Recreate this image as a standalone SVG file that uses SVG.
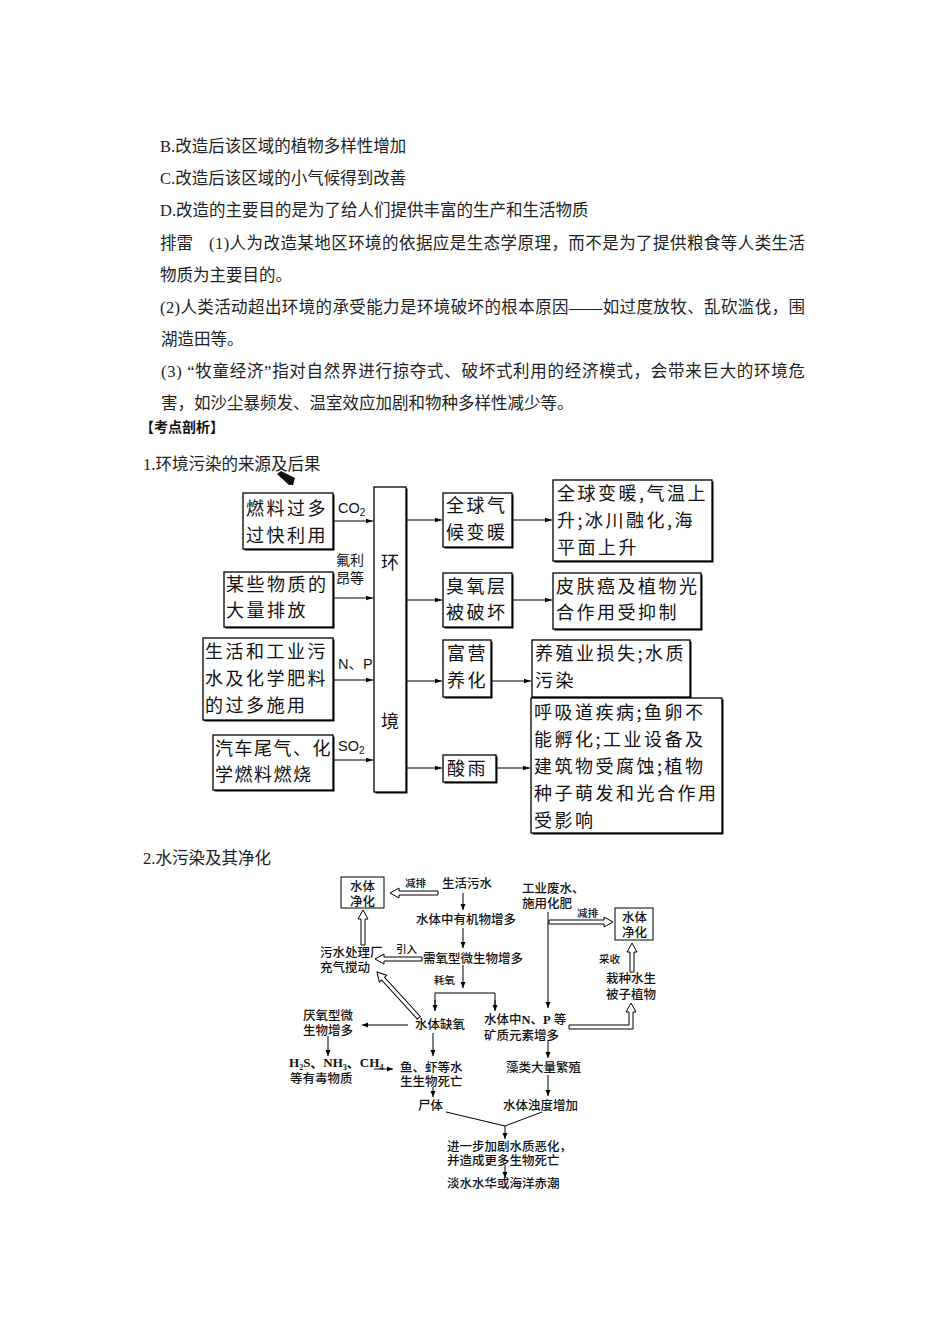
<svg xmlns="http://www.w3.org/2000/svg" width="950" height="1344" viewBox="0 0 950 1344">
<style>
.t{font-family:"Liberation Serif","Noto Sans CJK SC",serif;font-size:16.5px;fill:#222}
.h{font-family:"Noto Sans CJK SC",sans-serif;font-size:14px;font-weight:bold;fill:#111}
.d1{font-family:"Noto Sans CJK SC",sans-serif;font-size:18px;letter-spacing:2.5px;fill:#111}
.lb{font-family:"Liberation Sans","Noto Sans CJK SC",sans-serif;font-size:14.5px;fill:#111}
.lc{font-family:"Noto Sans CJK SC",sans-serif;font-size:14px;fill:#111}
.bx{fill:#fff;stroke:#000;stroke-width:1.3}
.sh{fill:#000}
.ln{stroke:#000;stroke-width:1;fill:none}
.d2{font-family:"Liberation Serif","Noto Sans CJK SC",serif;font-size:12.5px;fill:#111;font-weight:500}
.sm{font-family:"Liberation Serif","Noto Sans CJK SC",serif;font-size:10.5px;fill:#111;font-weight:500}
.ha{fill:#fff;stroke:#000;stroke-width:1}
</style>
<defs>
<marker id="a1" markerWidth="8" markerHeight="6" refX="7" refY="3" orient="auto" markerUnits="userSpaceOnUse"><path d="M0,0.8 L7,3 L0,5.2 Z" fill="#000"/></marker>
<marker id="a2" markerWidth="7" markerHeight="6" refX="6" refY="3" orient="auto" markerUnits="userSpaceOnUse"><path d="M0,0.5 L6,3 L0,5.5 Z" fill="#000"/></marker>
</defs>
<rect width="950" height="1344" fill="#fff"/>

<g id="text-block">
<text class="t" x="160" y="152">B.改造后该区域的植物多样性增加</text>
<text class="t" x="160" y="184">C.改造后该区域的小气候得到改善</text>
<text class="t" x="160" y="216">D.改造的主要目的是为了给人们提供丰富的生产和生活物质</text>
<text class="t" x="160" y="249">排雷</text>
<text class="t" x="209" y="249" textLength="596" lengthAdjust="spacing">(1)人为改造某地区环境的依据应是生态学原理，而不是为了提供粮食等人类生活</text>
<text class="t" x="160" y="281">物质为主要目的。</text>
<text class="t" x="160" y="313" textLength="645" lengthAdjust="spacing">(2)人类活动超出环境的承受能力是环境破坏的根本原因——如过度放牧、乱砍滥伐，围</text>
<text class="t" x="161" y="345">湖造田等。</text>
<text class="t" x="161" y="377" textLength="644" lengthAdjust="spacing">(3) “牧童经济”指对自然界进行掠夺式、破坏式利用的经济模式，会带来巨大的环境危</text>
<text class="t" x="161" y="409">害，如沙尘暴频发、温室效应加剧和物种多样性减少等。</text>
<text class="h" x="140" y="432">【考点剖析】</text>
<text class="t" x="143" y="470">1.环境污染的来源及后果</text>
<polygon points="277,474 281,471 295,478 293,485 289,485" fill="#111"/>
<text class="t" x="143" y="864">2.水污染及其净化</text>
</g>

<g id="d1-connectors">
<line class="ln" x1="333" y1="521" x2="373" y2="521" marker-end="url(#a1)"/>
<line class="ln" x1="333" y1="598" x2="373" y2="598" marker-end="url(#a1)"/>
<line class="ln" x1="333" y1="680" x2="373" y2="680" marker-end="url(#a1)"/>
<line class="ln" x1="333" y1="760" x2="373" y2="760" marker-end="url(#a1)"/>
<line class="ln" x1="406" y1="520" x2="442" y2="520" marker-end="url(#a1)"/>
<line class="ln" x1="406" y1="600" x2="442" y2="600" marker-end="url(#a1)"/>
<line class="ln" x1="406" y1="681" x2="442" y2="681" marker-end="url(#a1)"/>
<line class="ln" x1="406" y1="768" x2="442" y2="768" marker-end="url(#a1)"/>
<line class="ln" x1="513" y1="520" x2="552" y2="520" marker-end="url(#a1)"/>
<line class="ln" x1="513" y1="600" x2="552" y2="600" marker-end="url(#a1)"/>
<line class="ln" x1="492" y1="681" x2="531" y2="681" marker-end="url(#a1)"/>
<line class="ln" x1="497" y1="768" x2="530" y2="768" marker-end="url(#a1)"/>
<text class="lb" x="338" y="513">CO<tspan font-size="10" dy="3">2</tspan></text>
<text class="lc" x="336" y="565">氟利</text>
<text class="lc" x="336" y="583">昂等</text>
<text class="lb" x="338" y="669">N、P</text>
<text class="lb" x="338" y="751">SO<tspan font-size="10" dy="3">2</tspan></text>
</g>

<g id="b1"><rect class="sh" x="244.5" y="494.5" width="90" height="56"/><rect class="bx" x="243" y="493" width="90" height="56"/>
<text class="d1" x="246" y="515">燃料过多</text><text class="d1" x="246" y="542">过快利用</text></g>
<g id="b2"><rect class="sh" x="225.5" y="573.5" width="109" height="55"/><rect class="bx" x="224" y="572" width="109" height="55"/>
<text class="d1" x="226" y="591">某些物质的</text><text class="d1" x="226" y="617">大量排放</text></g>
<g id="b3"><rect class="sh" x="204.5" y="639.5" width="130" height="82"/><rect class="bx" x="203" y="638" width="130" height="82"/>
<text class="d1" x="205" y="658">生活和工业污</text><text class="d1" x="205" y="685">水及化学肥料</text><text class="d1" x="205" y="712">的过多施用</text></g>
<g id="b4"><rect class="sh" x="214.5" y="736.5" width="120" height="55"/><rect class="bx" x="213" y="735" width="120" height="55"/>
<text class="d1" x="215" y="755" style="letter-spacing:1.5px">汽车尾气、化</text><text class="d1" x="215" y="781" style="letter-spacing:1.5px">学燃料燃烧</text></g>
<g id="env"><rect class="sh" x="375.5" y="488.5" width="32" height="305"/><rect class="bx" x="374" y="487" width="32" height="305"/>
<text class="d1" x="381" y="569">环</text><text class="d1" x="381" y="728">境</text></g>
<g id="m1"><rect class="sh" x="444.5" y="494.5" width="69" height="54"/><rect class="bx" x="443" y="493" width="69" height="54"/>
<text class="d1" x="446" y="512">全球气</text><text class="d1" x="446" y="539">候变暖</text></g>
<g id="m2"><rect class="sh" x="444.5" y="574.5" width="69" height="54"/><rect class="bx" x="443" y="573" width="69" height="54"/>
<text class="d1" x="446" y="593">臭氧层</text><text class="d1" x="446" y="619">被破坏</text></g>
<g id="m3"><rect class="sh" x="444.5" y="641.5" width="48" height="57"/><rect class="bx" x="443" y="640" width="48" height="57"/>
<text class="d1" x="447" y="660">富营</text><text class="d1" x="447" y="687">养化</text></g>
<g id="m4"><rect class="sh" x="444.5" y="756.5" width="53" height="27"/><rect class="bx" x="443" y="755" width="53" height="27"/>
<text class="d1" x="447" y="775">酸雨</text></g>
<g id="r1"><rect class="sh" x="554.5" y="481.5" width="159" height="81"/><rect class="bx" x="553" y="480" width="159" height="81"/>
<text class="d1" x="557" y="500">全球变暖,气温上</text><text class="d1" x="557" y="527">升;冰川融化,海</text><text class="d1" x="557" y="554">平面上升</text></g>
<g id="r2"><rect class="sh" x="554.5" y="574.5" width="148" height="56"/><rect class="bx" x="553" y="573" width="148" height="56"/>
<text class="d1" x="556" y="593">皮肤癌及植物光</text><text class="d1" x="556" y="619">合作用受抑制</text></g>
<g id="r3"><rect class="sh" x="533.5" y="641.5" width="158" height="57"/><rect class="bx" x="532" y="640" width="158" height="57"/>
<text class="d1" x="535" y="660">养殖业损失;水质</text><text class="d1" x="535" y="687">污染</text></g>
<g id="r4"><rect class="sh" x="532.5" y="699.5" width="191" height="135"/><rect class="bx" x="531" y="698" width="191" height="135"/>
<text class="d1" x="534" y="719">呼吸道疾病;鱼卵不</text><text class="d1" x="534" y="746">能孵化;工业设备及</text><text class="d1" x="534" y="773">建筑物受腐蚀;植物</text><text class="d1" x="534" y="800">种子萌发和光合作用</text><text class="d1" x="534" y="827">受影响</text></g>

<g id="d2-connectors">
<line class="ln" x1="463" y1="893" x2="463" y2="910" marker-end="url(#a2)"/>
<line class="ln" x1="463" y1="928" x2="463" y2="948" marker-end="url(#a2)"/>
<line class="ln" x1="463" y1="965" x2="463" y2="988" marker-end="url(#a2)"/>
<polyline class="ln" points="435,1010 435,993 495,993 495,1010"/>
<line class="ln" x1="435" y1="1000" x2="435" y2="1011" marker-end="url(#a2)"/>
<line class="ln" x1="495" y1="1000" x2="495" y2="1011" marker-end="url(#a2)"/>
<line class="ln" x1="548" y1="912" x2="548" y2="1008" marker-end="url(#a2)"/>
<line class="ln" x1="408" y1="1025" x2="362" y2="1025" marker-end="url(#a2)"/>
<line class="ln" x1="328" y1="1036" x2="328" y2="1056" marker-end="url(#a2)"/>
<line class="ln" x1="433" y1="1033" x2="433" y2="1056" marker-end="url(#a2)"/>
<line class="ln" x1="374" y1="1069" x2="393" y2="1069" marker-end="url(#a2)"/>
<line class="ln" x1="548" y1="1041" x2="548" y2="1058" marker-end="url(#a2)"/>
<line class="ln" x1="433" y1="1087" x2="433" y2="1097" marker-end="url(#a2)"/>
<line class="ln" x1="548" y1="1075" x2="548" y2="1096" marker-end="url(#a2)"/>
<polyline class="ln" points="446,1112 505,1126 542,1112"/>
<line class="ln" x1="505" y1="1126" x2="505" y2="1139" marker-end="url(#a2)"/>
<line class="ln" x1="505" y1="1165" x2="505" y2="1178" marker-end="url(#a2)"/>
<polygon class="ha" points="438,891 399,891 399,888 390,893 399,898 399,895 438,895"/>
<polygon class="ha" points="361,945 361,919 358,919 363,910 368,919 365,919 365,945"/>
<polygon class="ha" points="422,957 384,957 384,954 375,959 384,964 384,961 422,961"/>
<polygon class="ha" points="549,920 604,920 604,917 613,922 604,927 604,924 549,924"/>
<polygon class="ha" points="630,972 630,952 627,952 632,943 637,952 634,952 634,972"/>
<polygon class="ha" points="569,1025 629,1025 629,1012 626,1012 631,1003 636,1012 633,1012 633,1029 569,1029"/>
<g transform="translate(377,972) rotate(227.6)"><polygon class="ha" points="-62,-2 -9,-2 -9,-5 0,0 -9,5 -9,2 -62,2"/></g>
<text class="sm" x="405" y="887">减排</text>
<text class="sm" x="577" y="917">减排</text>
<text class="sm" x="396" y="953">引入</text>
<text class="sm" x="434" y="984">耗氧</text>
<text class="sm" x="599" y="963">采收</text>
</g>

<g id="n-jh1"><rect class="ha" x="341" y="877" width="43" height="31"/><text class="d2" x="350" y="891">水体</text><text class="d2" x="350" y="906">净化</text></g>
<g id="n-jh2"><rect class="ha" x="615" y="908" width="38" height="32"/><text class="d2" x="622" y="922">水体</text><text class="d2" x="622" y="937">净化</text></g>
<g id="n-shws"><text class="d2" x="442" y="888">生活污水</text></g>
<g id="n-gyfs"><text class="d2" x="522" y="893">工业废水、</text><text class="d2" x="522" y="908">施用化肥</text></g>
<g id="n-yjw"><text class="d2" x="416" y="924">水体中有机物增多</text></g>
<g id="n-wscl"><text class="d2" x="320" y="957">污水处理厂</text><text class="d2" x="320" y="972">充气搅动</text></g>
<g id="n-xyx"><text class="d2" x="423" y="963">需氧型微生物增多</text></g>
<g id="n-zz"><text class="d2" x="606" y="983">栽种水生</text><text class="d2" x="606" y="999">被子植物</text></g>
<g id="n-qy"><text class="d2" x="415" y="1029">水体缺氧</text></g>
<g id="n-np"><text class="d2" x="484" y="1024">水体中<tspan style="font-weight:bold">N</tspan>、<tspan style="font-weight:bold">P</tspan> 等</text><text class="d2" x="484" y="1040">矿质元素增多</text></g>
<g id="n-yy"><text class="d2" x="303" y="1020">厌氧型微</text><text class="d2" x="303" y="1035">生物增多</text></g>
<g id="n-h2s"><text class="d2" x="289" y="1067" style="font-weight:bold;font-size:13px">H<tspan font-size="8" dy="3">2</tspan><tspan dy="-3">S、NH</tspan><tspan font-size="8" dy="3">3</tspan><tspan dy="-3">、CH</tspan><tspan font-size="8" dy="3">4</tspan></text><text class="d2" x="290" y="1083">等有毒物质</text></g>
<g id="n-yx"><text class="d2" x="400" y="1072">鱼、虾等水</text><text class="d2" x="400" y="1086">生生物死亡</text></g>
<g id="n-zl"><text class="d2" x="506" y="1072">藻类大量繁殖</text></g>
<g id="n-st"><text class="d2" x="418" y="1110">尸体</text></g>
<g id="n-zd"><text class="d2" x="503" y="1110">水体浊度增加</text></g>
<g id="n-jyb"><text class="d2" x="447" y="1151">进一步加剧水质恶化，</text><text class="d2" x="447" y="1165">并造成更多生物死亡</text></g>
<g id="n-ds"><text class="d2" x="447" y="1188">淡水水华或海洋赤潮</text></g>
</svg>
